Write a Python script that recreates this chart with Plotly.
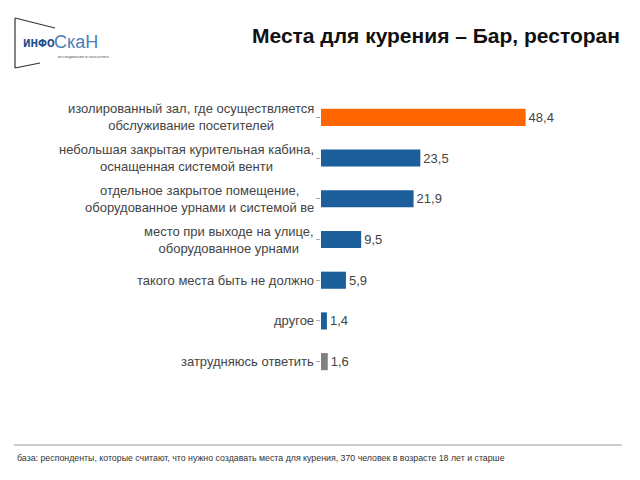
import plotly.graph_objects as go

categories = [
    "изолированный зал, где осуществляется<br>обслуживание посетителей",
    "небольшая закрытая курительная кабина,<br>оснащенная системой венти",
    "отдельное закрытое помещение,<br>оборудованное урнами и системой ве",
    "место при выходе на улице,<br>оборудованное урнами",
    "такого места быть не должно",
    "другое",
    "затрудняюсь ответить",
]
values = [48.4, 23.5, 21.9, 9.5, 5.9, 1.4, 1.6]
bar_colors = ["#FF6600", "#1B5E9B", "#1B5E9B", "#1B5E9B", "#1B5E9B", "#1B5E9B", "#808080"]
title_text = "Места для курения – Бар, ресторан"
footnote = "база: респонденты, которые считают, что нужно создавать места для курения, 370 человек в возрасте 18 лет и старше"

W, H = 640, 480
L, R, T, B = 321, 40, 97, 98
PW, PH = W - L - R, H - T - B

def px(x):
    return (x - L) / PW

def py(y):
    return (H - B - y) / PH

ids = list(range(len(categories)))

fig = go.Figure()
fig.add_trace(go.Bar(
    x=values, y=ids, orientation="h",
    marker=dict(color=bar_colors, line=dict(width=0)),
    width=0.42,
    text=[f"{v:.1f}".replace(".", ",") for v in values],
    textposition="outside",
    textfont=dict(family="Liberation Sans, Arial", size=13, color="#444444"),
    cliponaxis=False,
    hoverinfo="skip",
))

annotations = []
for i, c in enumerate(categories):
    annotations.append(dict(
        x=0, y=i, xref="x", yref="y", text=c, showarrow=False,
        xanchor="right", yanchor="middle", align="center", xshift=-5,
        font=dict(family="Liberation Sans, Arial", size=13, color="#444444"),
    ))

# Title
annotations.append(dict(x=px(622), y=py(35), xref="paper", yref="paper", text=f"<b>{title_text}</b>",
                        showarrow=False, xanchor="right", yanchor="middle",
                        font=dict(family="Liberation Sans, Arial", size=21, color="#111111")))
# Logo
annotations.append(dict(x=px(21), y=py(43), xref="paper", yref="paper", text="<b>ИНФО</b>",
                        showarrow=False, xanchor="left", yanchor="middle",
                        font=dict(family="DejaVu Sans Condensed, Liberation Sans", size=10, color="#1F4E8C")))
annotations.append(dict(x=px(52), y=py(42), xref="paper", yref="paper", text="СкаН",
                        showarrow=False, xanchor="left", yanchor="middle",
                        font=dict(family="Liberation Sans", size=18, color="#4A7FB8")))
annotations.append(dict(x=px(56), y=py(56), xref="paper", yref="paper", text="исследования и консалтинг",
                        showarrow=False, xanchor="left", yanchor="middle",
                        font=dict(family="Liberation Sans", size=4, color="#555555")))
# Footnote
annotations.append(dict(x=px(15), y=py(458), xref="paper", yref="paper", text=footnote,
                        showarrow=False, xanchor="left", yanchor="middle",
                        font=dict(family="Liberation Sans, Arial", size=8.8, color="#333333")))

shapes = [
    dict(type="line", xref="paper", yref="paper", x0=px(15), y0=py(18), x1=px(15), y1=py(68),
         line=dict(color="#333333", width=1.2)),
    dict(type="line", xref="paper", yref="paper", x0=px(15), y0=py(18), x1=px(55), y1=py(28),
         line=dict(color="#333333", width=1.2)),
    dict(type="line", xref="paper", yref="paper", x0=px(15), y0=py(68), x1=px(40), y1=py(63),
         line=dict(color="#333333", width=1.2)),
    dict(type="line", xref="paper", yref="paper", x0=px(14), y0=py(445), x1=px(622), y1=py(445),
         line=dict(color="#CCCCCC", width=2)),
]

fig.update_layout(
    width=W, height=H,
    margin=dict(l=L, r=R, t=T, b=B, autoexpand=False),
    paper_bgcolor="white", plot_bgcolor="white",
    showlegend=False,
    hovermode=False,
    xaxis=dict(range=[0, 66], visible=False, fixedrange=True, automargin=False),
    yaxis=dict(tickmode="array", tickvals=ids, ticktext=[""] * len(ids),
               range=[len(ids) - 0.5, -0.5], showgrid=False, zeroline=False, showline=False,
               ticks="outside", ticklen=4, tickcolor="#AAAAAA", tickwidth=1,
               tickson="boundaries", type="linear", automargin=False, fixedrange=True),
    annotations=annotations,
    shapes=shapes,
)

fig.write_html("out.html", config={"displayModeBar": False, "staticPlot": True},
               post_script="document.body.style.margin='0';document.body.style.padding='0';")
